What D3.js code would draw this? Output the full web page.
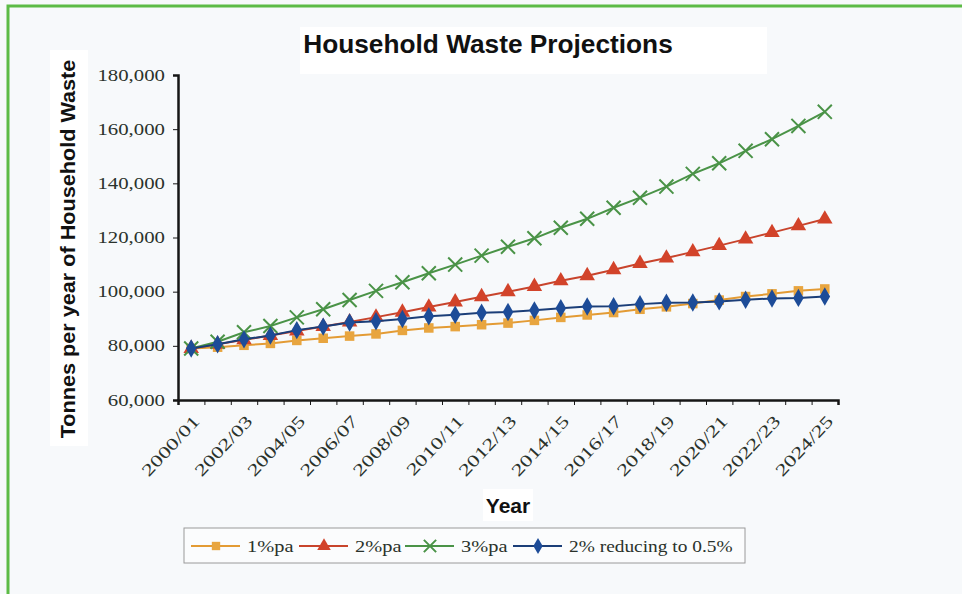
<!DOCTYPE html>
<meta charset='utf-8'>

<head>
  <style>
    body {
      margin: 0;
      background: #f7f9fb;
    }
    .axis text {
      font-family: 'Liberation Serif', serif;
      font-size: 16px;
      fill: #2a322b;
    }
    .axis path,
    .axis line {
      fill: none;
      stroke: #161616;
    }
    .legend text {
      font-family: 'Liberation Serif', serif;
      font-size: 17px;
      fill: #2a322b;
    }
    .ttl {
      font-family: 'Liberation Sans', Arial, sans-serif;
      font-weight: bold;
      fill: #111;
    }
  </style>
</head>

<body>

<script src='https://d3js.org/d3.v7.min.js'></script>

<script>

// financial years on the x axis
var years = ['2000/01', '2001/02', '2002/03', '2003/04', '2004/05', '2005/06', '2006/07',
             '2007/08', '2008/09', '2009/10', '2010/11', '2011/12', '2012/13', '2013/14',
             '2014/15', '2015/16', '2016/17', '2017/18', '2018/19', '2019/20', '2020/21',
             '2021/22', '2022/23', '2023/24', '2024/25'];

// tonnes per year
var pa1 = [79000, 79500, 80200, 80900, 82000, 82800, 83600, 84400, 85700, 86600, 87100, 87800,
           88400, 89400, 90500, 91400, 92300, 93500, 94400, 95600, 96900, 98200, 99200, 100300, 101000];
var pa2 = [79000, 80600, 82200, 83800, 85500, 87100, 88800, 90600, 92400, 94300, 96200, 98100,
           100000, 101900, 104000, 105900, 108100, 110400, 112400, 114700, 117000, 119400, 121800, 124300, 126800];
var pa3 = [79000, 81500, 85000, 87300, 90500, 93500, 96900, 100300, 103500, 106800, 110000, 113300,
           116600, 119700, 123600, 126900, 131000, 134700, 138800, 143500, 147400, 152000, 156300, 161200, 166400];
var reducing = [79000, 80600, 82400, 83800, 85800, 87100, 88600, 89100, 89900, 90900, 91500, 92200,
                92500, 93100, 93900, 94500, 94600, 95400, 95900, 96000, 96400, 97000, 97500, 97700, 98200];

var yTicks = [60000, 80000, 100000, 120000, 140000, 160000, 180000];

var series = [
  {name: '1%pa', values: pa1, color: '#e39b34', fill: '#e8a53f', marker: 'square'},
  {name: '2%pa', values: pa2, color: '#c8442c', fill: '#d2432a', marker: 'triangle'},
  {name: '3%pa', values: pa3, color: '#4a9347', fill: '#4a9347', marker: 'cross'},
  {name: '2% reducing to 0.5%', values: reducing, color: '#1b3e78', fill: '#1d4c98', marker: 'diamond'}
];

var margin = {top: 75, right: 124, bottom: 194, left: 178},
    width = 962 - margin.left - margin.right,
    height = 594 - margin.top - margin.bottom;

var x = d3.scaleBand().domain(years).range([0, width]),
    xb = d3.scaleLinear().domain([0, years.length]).range([0, width]),
    y = d3.scaleLinear().domain([60000, 180000]).range([height, 0]);

// scanned text is wider than the fonts we have
function stretch(sel, k) {
  sel.each(function() {
    var w = this.getComputedTextLength();
    d3.select(this).attr('textLength', w * k).attr('lengthAdjust', 'spacingAndGlyphs');
  });
}

var root = d3.select('body').append('svg')
    .attr('width', 962)
    .attr('height', 594);

// green frame
root.append('path')
    .attr('d', 'M8,594V6H962')
    .attr('fill', 'none')
    .attr('stroke', '#5cbb46')
    .attr('stroke-width', 3);

// title
root.append('rect')
    .attr('x', 300).attr('y', 27).attr('width', 467).attr('height', 47)
    .attr('fill', '#fff');
root.append('text')
    .attr('class', 'ttl')
    .attr('x', 488).attr('y', 53)
    .attr('text-anchor', 'middle')
    .style('font-size', '25px')
    .text('Household Waste Projections')
    .call(stretch, 1.05);

// y axis title
root.append('rect')
    .attr('x', 50).attr('y', 50).attr('width', 38).attr('height', 396)
    .attr('fill', '#fff');
root.append('text')
    .attr('class', 'ttl')
    .attr('transform', 'translate(75,249) rotate(-90)')
    .attr('text-anchor', 'middle')
    .style('font-size', '21px')
    .text('Tonnes per year of Household Waste')
    .call(stretch, 1.03);

// x axis title
root.append('rect')
    .attr('x', 483).attr('y', 489).attr('width', 50).attr('height', 32)
    .attr('fill', '#fff');
root.append('text')
    .attr('class', 'ttl')
    .attr('x', 508).attr('y', 513)
    .attr('text-anchor', 'middle')
    .style('font-size', '21px')
    .text('Year');

var svg = root.append('g')
    .attr('transform', 'translate(' + margin.left + ',' + margin.top + ')');

svg.append('g')
    .attr('class', 'y axis')
    .call(d3.axisLeft(y).tickValues(yTicks).tickFormat(d3.format(',')).tickSize(5).tickPadding(8))
    .call(g => g.select('.domain').attr('stroke-width', 2.5))
    .selectAll('text')
    .call(stretch, 1.3);

// tick marks sit between the categories
svg.append('g')
    .attr('class', 'x axis')
    .attr('transform', 'translate(0,' + height + ')')
    .call(d3.axisBottom(xb).tickValues(d3.range(years.length + 1)).tickFormat('').tickSize(5))
    .call(g => g.select('.domain').attr('stroke-width', 2.5))
    .call(g => g.selectAll('.tick line').attr('stroke', '#777'));

svg.append('g')
    .attr('class', 'x axis')
    .selectAll('text')
    .data(years.filter((d, i) => i % 2 === 0))
  .enter().append('text')
    .attr('transform', d => 'translate(' + (x(d) + x.bandwidth() / 2 + 5) + ',' + (height + 18) + ') rotate(-47)')
    .attr('text-anchor', 'end')
    .attr('dy', '0.35em')
    .style('font-size', '17px')
    .text(d => d)
    .call(stretch, 1.36);

var line = d3.line()
    .x((d, i) => x(years[i]) + x.bandwidth() / 2)
    .y(d => y(d));

function drawMarker(g, type, fill, size) {
  if (type === 'cross') {
    g.append('path')
      .attr('d', d3.symbol(d3.symbolTimes, size * 10)())
      .attr('fill', 'none')
      .attr('stroke', fill)
      .attr('stroke-width', 2);
  } else {
    var sym = type === 'square' ? d3.symbolSquare : type === 'triangle' ? d3.symbolTriangle : d3.symbolDiamond;
    var area = type === 'square' ? size * 7 : type === 'triangle' ? size * 8 : size * 7.5;
    g.append('path')
      .attr('d', d3.symbol(sym, area)())
      .attr('fill', fill);
  }
}

series.forEach(s => {
  var g = svg.append('g');
  g.append('path')
      .datum(s.values)
      .attr('fill', 'none')
      .attr('stroke', s.color)
      .attr('stroke-width', 2)
      .attr('d', line);
  g.selectAll('g.pt')
      .data(s.values)
    .enter().append('g')
      .attr('class', 'pt')
      .attr('transform', (d, i) => 'translate(' + (x(years[i]) + x.bandwidth() / 2) + ',' + y(d) + ')')
      .each(function() { drawMarker(d3.select(this), s.marker, s.fill, 13); });
});

// legend
var legend = root.append('g')
    .attr('class', 'legend')
    .attr('transform', 'translate(184,528)');
legend.append('rect')
    .attr('width', 561).attr('height', 35)
    .attr('fill', '#fbfcfd')
    .attr('stroke', '#9a9a9a');

var legendX = [7, 115, 221, 329];
series.forEach((s, i) => {
  var item = legend.append('g').attr('transform', 'translate(' + legendX[i] + ',18)');
  item.append('line').attr('x1', 0).attr('x2', 49)
      .attr('stroke', s.color).attr('stroke-width', 2);
  var m = item.append('g').attr('transform', 'translate(25,0)');
  drawMarker(m, s.marker, s.fill, 10);
  item.append('text')
      .attr('x', 56).attr('dy', '0.35em')
      .text(s.name)
      .call(stretch, i === 3 ? 1.14 : 1.2);
});

</script>

</body>
